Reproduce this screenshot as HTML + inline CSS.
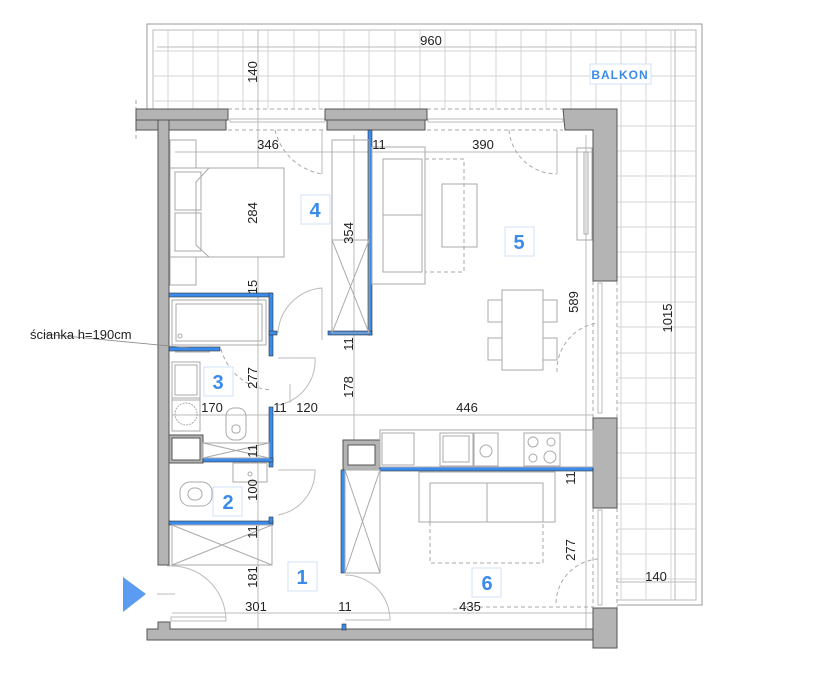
<!DOCTYPE html>
<html><head><meta charset="utf-8"><style>
html,body{margin:0;padding:0;background:#fff;width:837px;height:673px;overflow:hidden}
svg{display:block}
.t{font-family:"Liberation Sans",sans-serif;font-size:13px;fill:#222}
.n{font-family:"Liberation Sans",sans-serif;font-size:20px;fill:#3b8beb;font-weight:bold}
</style></head><body>
<svg width="837" height="673" viewBox="0 0 837 673" xmlns="http://www.w3.org/2000/svg">
<g fill="none" stroke="#999" stroke-width="1">
<path d="M147 109 V24 H702 V605 H617"/>
<path d="M153 109 V30 H696 V600 H617" stroke="#bbb"/>
</g>
<g stroke="#d4d4d4" stroke-width="1">
<line x1="168" y1="30" x2="168" y2="109"/><line x1="193" y1="30" x2="193" y2="109"/><line x1="218" y1="30" x2="218" y2="109"/><line x1="243" y1="30" x2="243" y2="109"/><line x1="268" y1="30" x2="268" y2="109"/><line x1="294" y1="30" x2="294" y2="109"/><line x1="319" y1="30" x2="319" y2="109"/><line x1="344" y1="30" x2="344" y2="109"/><line x1="369" y1="30" x2="369" y2="109"/><line x1="395" y1="30" x2="395" y2="109"/><line x1="420" y1="30" x2="420" y2="109"/><line x1="445" y1="30" x2="445" y2="109"/><line x1="470" y1="30" x2="470" y2="109"/><line x1="496" y1="30" x2="496" y2="109"/><line x1="521" y1="30" x2="521" y2="109"/><line x1="546" y1="30" x2="546" y2="109"/><line x1="571" y1="30" x2="571" y2="109"/><line x1="596" y1="30" x2="596" y2="109"/>
<line x1="621" y1="30" x2="621" y2="600"/><line x1="646" y1="30" x2="646" y2="600"/><line x1="671" y1="30" x2="671" y2="600"/>
<line x1="153" y1="51" x2="696" y2="51"/><line x1="153" y1="76" x2="696" y2="76"/><line x1="153" y1="101" x2="696" y2="101"/>
<line x1="617" y1="126" x2="696" y2="126"/><line x1="617" y1="151" x2="696" y2="151"/><line x1="617" y1="176" x2="696" y2="176"/><line x1="617" y1="202" x2="696" y2="202"/><line x1="617" y1="227" x2="696" y2="227"/><line x1="617" y1="252" x2="696" y2="252"/><line x1="617" y1="277" x2="696" y2="277"/><line x1="617" y1="302" x2="696" y2="302"/><line x1="617" y1="327" x2="696" y2="327"/><line x1="617" y1="353" x2="696" y2="353"/><line x1="617" y1="378" x2="696" y2="378"/><line x1="617" y1="403" x2="696" y2="403"/><line x1="617" y1="428" x2="696" y2="428"/><line x1="617" y1="453" x2="696" y2="453"/><line x1="617" y1="478" x2="696" y2="478"/><line x1="617" y1="504" x2="696" y2="504"/><line x1="617" y1="529" x2="696" y2="529"/><line x1="617" y1="554" x2="696" y2="554"/><line x1="617" y1="579" x2="696" y2="579"/>
</g>
<g stroke="#bbb" stroke-width="1" fill="none">
<line x1="157" y1="47" x2="696" y2="47"/>
<line x1="258" y1="30" x2="258" y2="640"/>
<line x1="175" y1="152" x2="593" y2="152"/>
<line x1="354" y1="135" x2="354" y2="440"/>
<line x1="586" y1="135" x2="586" y2="640"/>
<line x1="675" y1="30" x2="675" y2="600"/>
<line x1="172" y1="415" x2="593" y2="415"/>
<line x1="172" y1="613" x2="593" y2="613"/>
<line x1="617" y1="582" x2="696" y2="582"/>
</g>
<g stroke="#aaa" stroke-width="1" fill="none" stroke-dasharray="4,3">
<line x1="136" y1="100" x2="136" y2="140"/>
<line x1="228" y1="109" x2="325" y2="109"/><line x1="228" y1="130" x2="325" y2="130"/>
<line x1="427" y1="109" x2="563" y2="109"/><line x1="427" y1="130" x2="563" y2="130"/>
<line x1="593" y1="281" x2="593" y2="418"/><line x1="617" y1="281" x2="617" y2="418"/>
<line x1="593" y1="508" x2="593" y2="608"/><line x1="617" y1="508" x2="617" y2="608"/>
<path d="M275 130 A58 58 0 0 0 322 174"/>
<path d="M509 130 A48 48 0 0 0 557 174"/>
<path d="M221 349 A55 55 0 0 0 272 390"/>
<path d="M557 372 A48 48 0 0 1 597 323"/>
<path d="M556 603 A45 45 0 0 1 600 559"/>
<path d="M453 609 H460 V607 H593"/>
</g>
<g stroke="#bbb" stroke-width="1" fill="none">
<rect x="230" y="119" width="95" height="3"/><rect x="428" y="119" width="135" height="3"/>
<rect x="598" y="283" width="4" height="130"/><rect x="598" y="510" width="4" height="95"/>
<path d="M322 130 V174"/><path d="M557 130 V174"/>
<path d="M278 333 A48 48 0 0 1 322 288 V340"/>
<path d="M278 358 H315 A45 45 0 0 1 278 405"/>
<path d="M278 470 H315 A45 45 0 0 1 278 515"/>
<path d="M345 575 A45 45 0 0 1 390 620 H345"/>
<path d="M167 566 A55 55 0 0 1 226 621 H171 V617 H226"/>
<line x1="157" y1="594" x2="175" y2="594"/>
<line x1="290" y1="384" x2="290" y2="403"/>
</g>
<g fill="#b4b4b4" stroke="#555" stroke-width="1">
<rect x="136" y="109" width="92" height="11"/>
<rect x="136" y="120" width="90" height="10"/>
<rect x="158" y="120" width="11" height="445"/>
<rect x="325" y="109" width="102" height="11"/>
<rect x="327" y="120" width="98" height="10"/>
<path d="M563 109 H617 V281 H593 V130 H565 Z"/>
<rect x="593" y="418" width="24" height="90"/>
<rect x="593" y="608" width="24" height="40"/>
<path d="M147 629 H158 V622 H170 V629 H593 V640 H147 Z"/>
<rect x="343" y="440" width="37" height="30"/>
<rect x="169" y="435" width="34" height="28"/>
</g>
<g fill="#fff" stroke="#555" stroke-width="1">
<rect x="348" y="445" width="27" height="20"/>
<rect x="172" y="438" width="28" height="22"/>
</g>
<g fill="#3b8beb" stroke="#333" stroke-width="0.6">
<rect x="368" y="130" width="4" height="205"/>
<rect x="328" y="331" width="44" height="4"/>
<rect x="169" y="293" width="103" height="4"/>
<rect x="269" y="293" width="4" height="63"/>
<rect x="269" y="331" width="8" height="4"/>
<rect x="169" y="347" width="51" height="4"/>
<rect x="269" y="407" width="4" height="60"/>
<rect x="203" y="458" width="70" height="4"/>
<rect x="169" y="521" width="104" height="4"/>
<rect x="269" y="517" width="4" height="6"/>
<rect x="380" y="467" width="213" height="4"/>
<rect x="341" y="470" width="4" height="103"/>
<rect x="342" y="624" width="4" height="6"/>
</g>
<g fill="none" stroke="#aaa" stroke-width="1">
<rect x="170" y="140" width="26" height="145"/>
<rect x="170" y="168" width="114" height="89" fill="#fff"/>
<rect x="175" y="172" width="26" height="38"/><rect x="175" y="213" width="26" height="38"/>
<path d="M209 168 L196 182 V245 L209 257"/>
<rect x="332" y="140" width="37" height="100"/>
<rect x="332" y="240" width="37" height="93"/>
<path d="M332 240 L369 333 M369 240 L332 333"/>
<rect x="372" y="147" width="53" height="137"/>
<rect x="383" y="159" width="39" height="56"/><rect x="383" y="215" width="39" height="57"/>
<rect x="442" y="184" width="35" height="63"/>
<rect x="502" y="290" width="41" height="80"/>
<rect x="488" y="300" width="14" height="22"/><rect x="488" y="338" width="14" height="22"/>
<rect x="543" y="300" width="14" height="22"/><rect x="543" y="338" width="14" height="22"/>
<rect x="577" y="148" width="15" height="92"/><rect x="584" y="152" width="4" height="82"/>
<rect x="172" y="300" width="94" height="45"/><rect x="176" y="304" width="86" height="37"/>
<circle cx="180" cy="336" r="2"/>
<path d="M175 352 H210"/>
<rect x="172" y="362" width="28" height="38"/><rect x="175" y="365" width="22" height="30"/>
<rect x="172" y="398" width="28" height="33"/><circle cx="186" cy="414" r="11" stroke-dasharray="2,1"/>
<rect x="226" y="408" width="20" height="32" rx="8"/><rect x="232" y="425" width="8" height="8" rx="3"/>
<rect x="203" y="443" width="66" height="15"/><path d="M203 443 L269 458 M269 443 L203 458"/>
<rect x="233" y="463" width="34" height="19"/><circle cx="250" cy="474" r="2"/>
<rect x="180" y="482" width="32" height="24" rx="10"/><rect x="188" y="488" width="14" height="12" rx="6"/>
<rect x="172" y="525" width="100" height="40"/><path d="M172 525 L272 565 M272 525 L172 565"/>
<rect x="345" y="470" width="35" height="103"/><path d="M345 470 L380 573 M380 470 L345 573"/>
<rect x="380" y="430" width="213" height="37"/>
<rect x="382" y="433" width="32" height="32"/>
<rect x="440" y="433" width="33" height="33"/><rect x="443" y="436" width="26" height="26"/>
<rect x="474" y="433" width="24" height="33"/><path d="M486 445 A6 6 0 1 0 486 457 A6 6 0 1 0 486 445"/>
<rect x="524" y="433" width="36" height="33"/>
<circle cx="533" cy="442" r="5"/><circle cx="551" cy="442" r="4"/><circle cx="533" cy="458" r="4"/><circle cx="550" cy="457" r="6"/>
<rect x="419" y="472" width="136" height="50"/>
<line x1="487" y1="483" x2="487" y2="522"/>
<rect x="430" y="483" width="113" height="39"/>
<path d="M430 522 V563 H543 V522" stroke-dasharray="4,3"/>
<path d="M425 159 H464 V272 H425" stroke-dasharray="4,3"/>
</g>
<line x1="44" y1="334" x2="190" y2="348" stroke="#888" stroke-width="0.8"/>
<polygon points="123,577 146,594 123,612" fill="#5b9cf2"/>
<g fill="#fff" stroke="#cfe0f7" stroke-width="1">
<rect x="301" y="195" width="29" height="29"/>
<rect x="505" y="227" width="29" height="29"/>
<rect x="204" y="367" width="29" height="29"/>
<rect x="213" y="487" width="29" height="29"/>
<rect x="288" y="562" width="29" height="29"/>
<rect x="472" y="568" width="29" height="29"/>
<rect x="590" y="64" width="61" height="20"/>
</g>
<g class="n" text-anchor="middle">
<text x="315" y="217">4</text><text x="519" y="249">5</text><text x="218" y="389">3</text>
<text x="228" y="509">2</text><text x="302" y="584">1</text><text x="487" y="590">6</text>
</g>
<text x="620" y="79" text-anchor="middle" style="font-family:'Liberation Sans',sans-serif;font-size:12px;fill:#3b8beb;font-weight:bold;letter-spacing:1px">BALKON</text>
<g class="t" text-anchor="middle">
<text x="431" y="45">960</text>
<text x="268" y="149">346</text>
<text x="379" y="149">11</text>
<text x="483" y="149">390</text>
<text x="212" y="412">170</text>
<text x="280" y="412">11</text>
<text x="307" y="412">120</text>
<text x="467" y="412">446</text>
<text x="656" y="581">140</text>
<text x="256" y="611">301</text>
<text x="345" y="611">11</text>
<text x="470" y="611">435</text>
<text transform="translate(257,72) rotate(-90)">140</text>
<text transform="translate(257,213) rotate(-90)">284</text>
<text transform="translate(353,233) rotate(-90)">354</text>
<text transform="translate(257,287) rotate(-90)">15</text>
<text transform="translate(578,302) rotate(-90)">589</text>
<text transform="translate(672,318) rotate(-90)">1015</text>
<text transform="translate(257,378) rotate(-90)">277</text>
<text transform="translate(353,344) rotate(-90)">11</text>
<text transform="translate(353,387) rotate(-90)">178</text>
<text transform="translate(257,451) rotate(-90)">11</text>
<text transform="translate(257,490) rotate(-90)">100</text>
<text transform="translate(575,478) rotate(-90)">11</text>
<text transform="translate(257,532) rotate(-90)">11</text>
<text transform="translate(575,550) rotate(-90)">277</text>
<text transform="translate(257,577) rotate(-90)">181</text>
</g>
<text x="30" y="339" class="t">ścianka h=190cm</text>
</svg>
</body></html>
